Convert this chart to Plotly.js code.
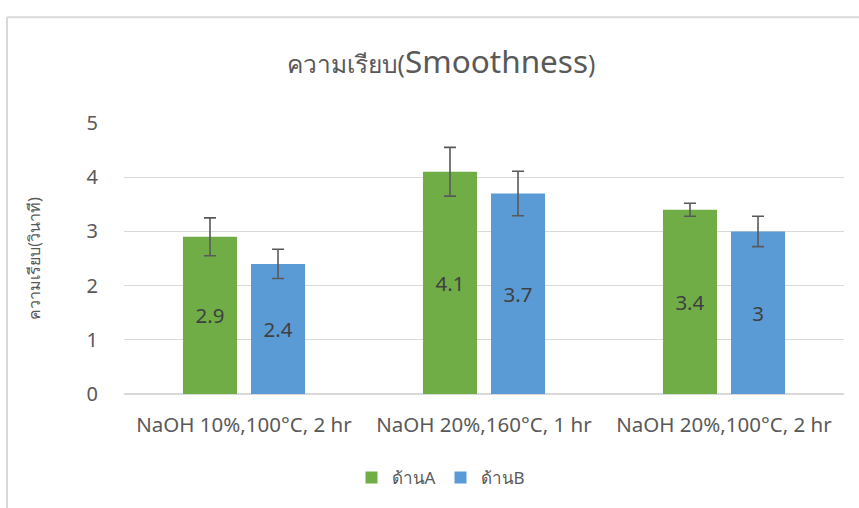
<!DOCTYPE html>
<html><head><meta charset="utf-8">
<script src="https://cdn.plot.ly/plotly-3.0.1.min.js"></script>
<style>html,body{margin:0;padding:0;background:#fff}</style>
</head><body>
<div id="chart" style="width:859px;height:508px"></div>
<script>
const categories = ["NaOH 10%,100°C, 2 hr", "NaOH 20%,160°C, 1 hr", "NaOH 20%,100°C, 2 hr"];
const seriesNames = ["ด้านA", "ด้านB"];
const valuesA = [2.9, 4.1, 3.4];
const valuesB = [2.4, 3.7, 3];
const errorsA = [0.35, 0.45, 0.12];
const errorsB = [0.27, 0.41, 0.28];
const yTicks = [0, 1, 2, 3, 4, 5];

const font = "'Noto Sans', 'Open Sans', sans-serif";
function barTrace(name, vals, errs, color) {
  return {
    type: 'bar', name: name, x: categories, y: vals,
    marker: {color: color},
    text: vals.map(String), textposition: 'inside', insidetextanchor: 'middle',
    textfont: {color: '#404040', size: 20.5, family: font},
    error_y: {type: 'data', array: errs, visible: true, color: '#595959', thickness: 1.6, width: 6},
    hoverinfo: 'none'
  };
}
const data = [
  barTrace(seriesNames[0], valuesA, errorsA, '#70AD47'),
  barTrace(seriesNames[1], valuesB, errorsB, '#5B9BD5')
];
const px = v => (v - 124) / 720, py = v => (396 - v) / 274;
const layout = {
  width: 859, height: 508,
  margin: {l: 124, r: 15, t: 123, b: 110},
  paper_bgcolor: '#fff', plot_bgcolor: '#fff',
  font: {family: font, color: '#595959', size: 16},
  title: {
    text: "<span style='font-size:24.5px'>ความเรียบ(</span>Smoothness<span style='font-size:24.5px'>)</span>",
    font: {size: 31.5, color: '#595959', family: font},
    x: 441 / 859, xanchor: 'center', xref: 'container',
    y: 1 - 62 / 508, yanchor: 'middle', yref: 'container'
  },
  barmode: 'group', bargap: 0.433, bargroupgap: 0.206,
  xaxis: {
    showgrid: false, showline: false, zeroline: false, ticks: '',
    ticklabelstandoff: 16,
    tickfont: {size: 20.5, color: '#595959'}, fixedrange: true
  },
  yaxis: {
    range: [0, 5], tickvals: yTicks, ticktext: yTicks.map(String),
    showgrid: true, gridcolor: '#D9D9D9', gridwidth: 1.3,
    zeroline: true, zerolinecolor: '#D9D9D9', zerolinewidth: 1.3,
    showline: false, ticks: '', ticklabelstandoff: 25,
    tickfont: {size: 20, color: '#595959'},
    title: {text: 'ความเรียบ(วินาที)', font: {size: 16, color: '#595959'}, standoff: 41}
  },
  showlegend: true,
  legend: {
    orientation: 'h', x: px(441), xanchor: 'center', y: py(481), yanchor: 'middle',
    font: {size: 17, color: '#595959'}, itemwidth: 30, traceorder: 'normal'
  },
  shapes: [
    {type: 'line', xref: 'paper', yref: 'paper', x0: px(7), x1: px(880), y0: py(15), y1: py(15), line: {color: '#D9D9D9', width: 2}},
    {type: 'line', xref: 'paper', yref: 'paper', x0: px(7), x1: px(7), y0: py(15), y1: py(530), line: {color: '#D9D9D9', width: 2}}
  ]
};
Plotly.newPlot('chart', data, layout, {displayModeBar: false, staticPlot: true});
</script>
</body></html>
